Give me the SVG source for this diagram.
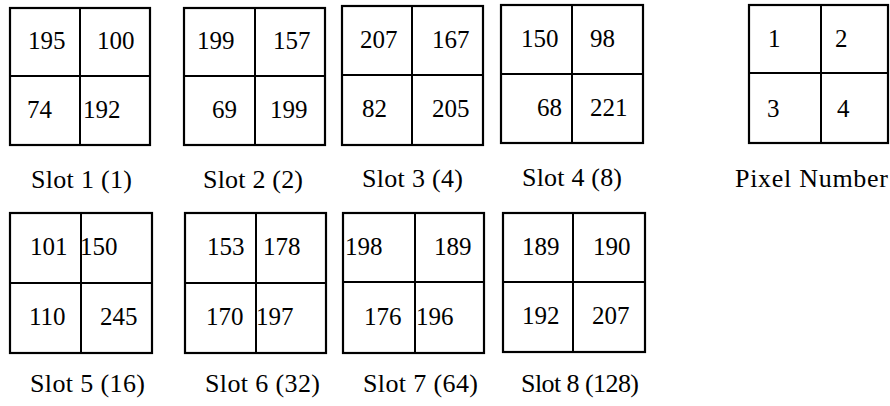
<svg xmlns="http://www.w3.org/2000/svg" width="890" height="406" viewBox="0 0 890 406">
<style>
.g{fill:none;stroke:#000;stroke-width:2.2}
.l{stroke:#000;stroke-width:2}
text{font-family:"Liberation Serif","Times New Roman",serif;font-size:25px;fill:#000}
.lb{font-size:26px}
</style>
<rect width="890" height="406" fill="#fff"/>
<g id="slot1">
<rect class="g" x="10" y="8" width="140" height="137"/>
<line class="l" x1="80" y1="8" x2="80" y2="145"/><line class="l" x1="10" y1="76" x2="150" y2="76"/>
<text x="28" y="49">195</text><text x="97" y="49">100</text><text x="27" y="118">74</text><text x="83" y="118">192</text>
<text class="lb" x="31" y="188" textLength="101">Slot 1 (1)</text>
</g>
<g id="slot2">
<rect class="g" x="184" y="8" width="141" height="137"/>
<line class="l" x1="255" y1="8" x2="255" y2="145"/><line class="l" x1="184" y1="76" x2="325" y2="76"/>
<text x="197" y="49">199</text><text x="273" y="49">157</text><text x="212" y="118">69</text><text x="270" y="118">199</text>
<text class="lb" x="203" y="188" textLength="100">Slot 2 (2)</text>
</g>
<g id="slot3">
<rect class="g" x="342" y="6" width="141" height="139"/>
<line class="l" x1="412" y1="6" x2="412" y2="145"/><line class="l" x1="342" y1="75" x2="483" y2="75"/>
<text x="360" y="48">207</text><text x="432" y="48">167</text><text x="362" y="117">82</text><text x="432" y="117">205</text>
<text class="lb" x="362" y="187" textLength="101">Slot 3 (4)</text>
</g>
<g id="slot4">
<rect class="g" x="501" y="5" width="142" height="138"/>
<line class="l" x1="572" y1="5" x2="572" y2="143"/><line class="l" x1="501" y1="74" x2="643" y2="74"/>
<text x="521" y="47">150</text><text x="590" y="47">98</text><text x="537" y="116">68</text><text x="590" y="116">221</text>
<text class="lb" x="522" y="186" textLength="100">Slot 4 (8)</text>
</g>
<g id="pixel">
<rect class="g" x="749" y="5" width="139" height="138"/>
<line class="l" x1="821" y1="5" x2="821" y2="143"/><line class="l" x1="749" y1="73" x2="888" y2="73"/>
<text x="768" y="47">1</text><text x="835" y="47">2</text><text x="767" y="117">3</text><text x="837" y="117">4</text>
<text class="lb" x="735" y="187" textLength="153">Pixel Number</text>
</g>
<g id="slot5">
<rect class="g" x="10" y="213" width="142" height="140"/>
<line class="l" x1="81" y1="213" x2="81" y2="353"/><line class="l" x1="10" y1="283" x2="152" y2="283"/>
<text x="30" y="255">101</text><text x="80" y="255">150</text><text x="29" y="325">110</text><text x="100" y="325">245</text>
<text class="lb" x="30" y="392" textLength="115">Slot 5 (16)</text>
</g>
<g id="slot6">
<rect class="g" x="185" y="213" width="141" height="140"/>
<line class="l" x1="256" y1="213" x2="256" y2="353"/><line class="l" x1="185" y1="283" x2="326" y2="283"/>
<text x="207" y="255">153</text><text x="263" y="255">178</text><text x="206" y="325">170</text><text x="256" y="325">197</text>
<text class="lb" x="205" y="392" textLength="115">Slot 6 (32)</text>
</g>
<g id="slot7">
<rect class="g" x="343" y="213" width="141" height="140"/>
<line class="l" x1="415" y1="213" x2="415" y2="353"/><line class="l" x1="343" y1="282" x2="484" y2="282"/>
<text x="345" y="255">198</text><text x="434" y="255">189</text><text x="364" y="325">176</text><text x="416" y="325">196</text>
<text class="lb" x="363" y="392" textLength="115">Slot 7 (64)</text>
</g>
<g id="slot8">
<rect class="g" x="503" y="213" width="142" height="139"/>
<line class="l" x1="573" y1="213" x2="573" y2="352"/><line class="l" x1="503" y1="282" x2="645" y2="282"/>
<text x="522" y="255">189</text><text x="593" y="255">190</text><text x="522" y="324">192</text><text x="592" y="324">207</text>
<text class="lb" x="521" y="392" textLength="118">Slot 8 (128)</text>
</g>
<g id="connectors"/>
</svg>
